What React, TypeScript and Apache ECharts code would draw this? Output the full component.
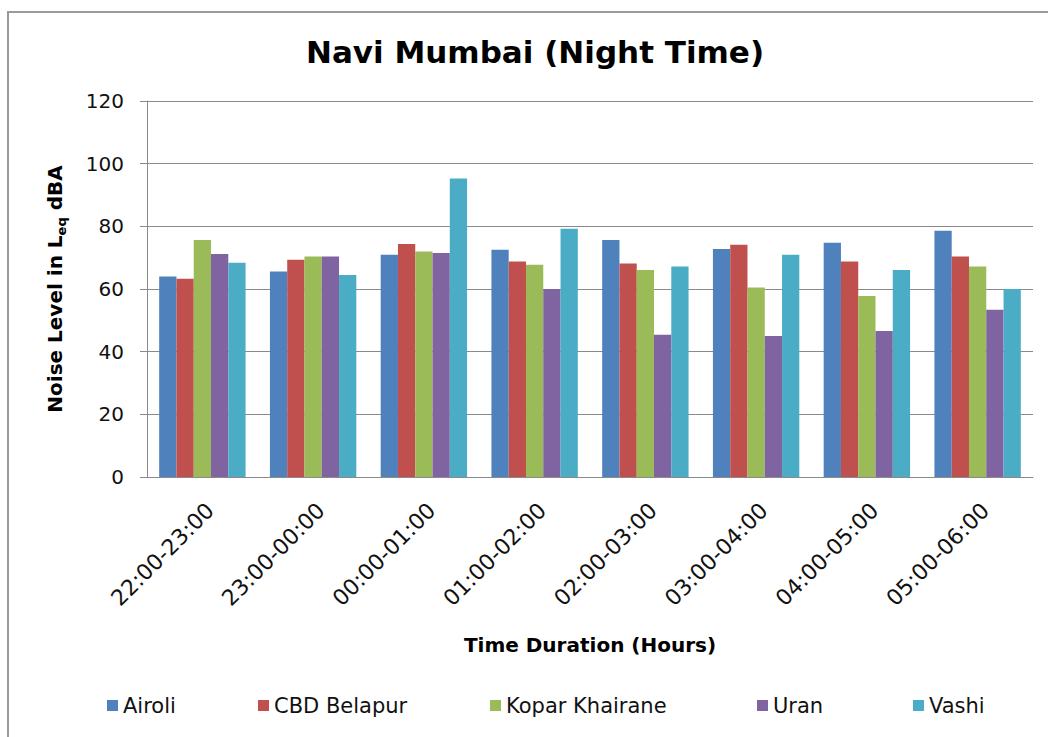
import React, { useEffect, useRef } from "react";
import * as echarts from "echarts";

const categories = [
  "22:00-23:00",
  "23:00-00:00",
  "00:00-01:00",
  "01:00-02:00",
  "02:00-03:00",
  "03:00-04:00",
  "04:00-05:00",
  "05:00-06:00",
];

const seriesNames = ["Airoli", "CBD Belapur", "Kopar Khairane", "Uran", "Vashi"];
const airoli = [64.0, 65.6, 70.9, 72.5, 75.6, 72.8, 74.8, 78.6];
const cbdBelapur = [63.3, 69.3, 74.4, 68.8, 68.1, 74.1, 68.8, 70.4];
const koparKhairane = [75.6, 70.4, 72.0, 67.7, 66.1, 60.5, 57.8, 67.2];
const uran = [71.2, 70.4, 71.5, 60.0, 45.4, 45.0, 46.6, 53.4];
const vashi = [68.4, 64.5, 95.3, 79.2, 67.2, 70.9, 66.1, 60.0];
const seriesValues = [airoli, cbdBelapur, koparKhairane, uran, vashi];
const colors = ["#4F81BD", "#C0504D", "#9BBB59", "#8064A2", "#4BACC6"];

const legendLefts = [107, 258, 490, 757, 913];

const FONT = "'DejaVu Sans', Verdana, sans-serif";

export default function App() {
  const ref = useRef<HTMLDivElement>(null);
  useEffect(() => {
    document.body.style.margin = "0";
    if (!ref.current) return;
    const chart = echarts.init(ref.current, null, { renderer: "svg" });
    chart.setOption({
      animation: false,
      backgroundColor: "#ffffff",
      color: colors,
      textStyle: { fontFamily: FONT },
      title: {
        text: "Navi Mumbai (Night Time)",
        left: 530,
        top: 47,
        textAlign: "center",
        textVerticalAlign: "middle",
        textStyle: { fontFamily: FONT, fontSize: 31, fontWeight: "bold", color: "#000" },
      },
      legend: seriesNames.map((n, i) => ({
        data: [n],
        left: legendLefts[i],
        top: 695,
        padding: 0,
        icon: "rect",
        itemWidth: 11,
        itemHeight: 11,
        itemGap: 0,
        selectedMode: false,
        textStyle: { fontFamily: FONT, fontSize: 21, color: "#111", padding: [0, 0, 0, 0] },
      })),
      grid: { left: 147, right: 15, top: 101, bottom: 260, containLabel: false },
      xAxis: {
        type: "category",
        data: categories,
        axisLine: { show: true, lineStyle: { color: "#8a8a8a", width: 1 } },
        axisTick: { show: false },
        axisLabel: {
          interval: 0,
          rotate: 45,
          margin: 22,
          align: "right",
          verticalAlign: "top",
          fontFamily: FONT,
          fontSize: 22,
          color: "#111",
        },
        name: "Time Duration (Hours)",
        nameLocation: "middle",
        nameGap: 158,
        nameTextStyle: { fontFamily: FONT, fontSize: 20, fontWeight: "bold", color: "#000" },
      },
      yAxis: {
        type: "value",
        min: 0,
        max: 120,
        interval: 20,
        axisLine: { show: true, lineStyle: { color: "#8a8a8a", width: 1 } },
        axisTick: { show: true, length: 7, lineStyle: { color: "#8a8a8a" } },
        splitLine: { show: true, lineStyle: { color: "#8a8a8a", width: 1 } },
        axisLabel: { margin: 23, fontFamily: FONT, fontSize: 20, color: "#111" },
      },
      graphic: [
        {
          type: "rect",
          shape: { x: 8, y: 12, width: 1100, height: 800 },
          style: { fill: "none", stroke: "#9a9a9a", lineWidth: 2 },
          silent: true,
        },
        {
          type: "text",
          x: 55,
          y: 289,
          rotation: Math.PI / 2,
          style: {
            text: "{a|Noise Level in L}{s|eq}{a| dBA}",
            align: "center",
            verticalAlign: "middle",
            rich: {
              a: { fontFamily: FONT, fontSize: 20, fontWeight: "bold", color: "#000", lineHeight: 26 },
              s: {
                fontFamily: FONT,
                fontSize: 13,
                fontWeight: "bold",
                color: "#000",
                lineHeight: 13,
                verticalAlign: "bottom",
              },
            },
          },
        },
      ],
      series: seriesNames.map((n, i) => ({
        name: n,
        type: "bar",
        data: seriesValues[i],
        barGap: "0%",
        barCategoryGap: "22%",
        itemStyle: { color: colors[i] },
      })),
    });
    return () => chart.dispose();
  }, []);
  return <div ref={ref} style={{ width: 1048, height: 737 }} />;
}
